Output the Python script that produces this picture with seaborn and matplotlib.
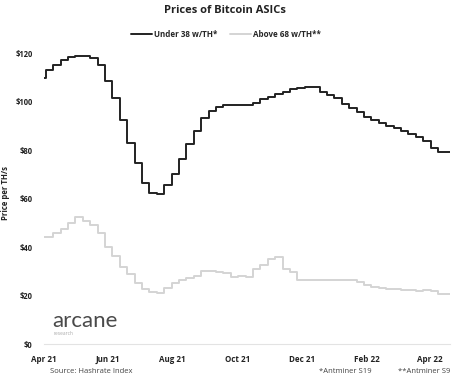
import matplotlib
matplotlib.use("Agg")
from matplotlib import pyplot as plt
import matplotlib.dates as mdates
import pandas as pd
import seaborn as sns

# weekly prices, USD per TH/s (first point Apr 1 2021, then weekly updates)
under_38 = [110.0, 113.1, 115.2, 117.2, 118.5, 118.7, 118.7, 118.0, 115.2, 108.7,
            101.4, 92.5, 82.8, 74.6, 66.6, 62.5, 62.0, 65.6, 70.0, 76.2,
            82.6, 87.9, 93.4, 96.3, 97.7, 98.7, 98.6, 98.5, 98.5, 99.6,
            101.0, 102.1, 103.1, 104.0, 105.3, 105.8, 106.2, 106.0, 104.2, 102.8,
            101.4, 98.9, 97.3, 95.6, 93.8, 92.5, 91.1, 90.2, 89.0, 87.9,
            86.7, 85.3, 83.8, 80.8, 79.1]
above_68 = [44.0, 44.0, 45.7, 47.3, 49.8, 52.5, 50.7, 49.1, 45.8, 40.2,
            36.5, 31.9, 28.8, 25.3, 22.8, 21.6, 21.2, 23.0, 25.0, 26.5,
            27.3, 28.1, 30.3, 30.2, 29.9, 29.5, 27.5, 28.0, 27.8, 31.0,
            32.6, 35.0, 35.8, 31.0, 29.9, 26.4, 26.4, 26.4, 26.4, 26.4,
            26.4, 26.4, 26.4, 25.8, 24.3, 23.4, 23.0, 22.6, 22.6, 22.5,
            22.2, 22.0, 22.4, 21.9, 20.8]
series_names = ["Under 38 w/TH*", "Above 68 w/TH**"]
series_colors = ["#222222", "#d4d4d4"]
y_ticks = [0, 20, 40, 60, 80, 100, 120]

dates = ([pd.Timestamp("2021-04-01")]
         + list(pd.date_range("2021-04-03", periods=len(under_38) - 1, freq="7D"))
         + [pd.Timestamp("2022-04-20")])

df = pd.concat([
    pd.DataFrame({"date": dates, "price": under_38 + [under_38[-1]], "series": series_names[0]}),
    pd.DataFrame({"date": dates, "price": above_68 + [above_68[-1]], "series": series_names[1]}),
])

sns.set_theme(style="white")
plt.rcParams["font.family"] = ["Open Sans", "DejaVu Sans"]

fig = plt.figure(figsize=(4.74, 3.79), dpi=100)
ax = fig.add_axes([0.0922, 0.0923, 0.8565, 0.799])

sns.lineplot(data=df, x="date", y="price", hue="series", hue_order=series_names,
             palette=series_colors, drawstyle="steps-post", linewidth=1.4,
             estimator=None, ax=ax, legend=False)

ax.set_xlim(pd.Timestamp("2021-04-01"), pd.Timestamp("2022-04-20"))
ax.set_ylim(0, 125)
ax.set_yticks(y_ticks)
ax.set_yticklabels([f"${v}" for v in y_ticks], fontsize=5.5, fontweight="bold", color="#222222")
ax.xaxis.set_major_locator(mdates.MonthLocator(bymonth=[2, 4, 6, 8, 10, 12]))
ax.xaxis.set_major_formatter(mdates.DateFormatter("%b %y"))
for lbl in ax.get_xticklabels():
    lbl.set_fontsize(5.8)
    lbl.set_fontweight("bold")
    lbl.set_color("#222222")

ax.set_xlabel("")
ax.set_ylabel("Price per TH/s", fontsize=5.6, fontweight="bold", color="#222222")
ax.yaxis.set_label_coords(-0.083, 0.5)

for s in ["top", "right", "left"]:
    ax.spines[s].set_visible(False)
ax.spines["bottom"].set_color("#e3e3e3")
ax.spines["bottom"].set_linewidth(0.8)
ax.tick_params(axis="x", length=2, color="#e3e3e3", pad=6)
ax.tick_params(axis="y", length=0, pad=8)

fig.text(0.475, 0.972, "Prices of Bitcoin ASICs", ha="center", va="center",
         fontsize=8, fontweight="bold", color="#222222")

handles = [plt.Line2D([], [], color=c, linewidth=1.4) for c in series_colors]
fig.legend(handles, series_names, loc="center", bbox_to_anchor=(0.477, 0.91), ncol=2,
           frameon=False, handlelength=2.6, handletextpad=0.2, columnspacing=1.6,
           prop={"size": 5.8, "weight": "bold"})

# logo
fig.text(0.111, 0.153, "arcane", ha="left", va="center", fontsize=16,
         color="#4a4a4a", family=["Lato", "DejaVu Sans"])
fig.text(0.113, 0.119, "research", ha="left", va="center", fontsize=3.5,
         color="#aaaaaa")

# footer
fig.text(0.105, 0.01, "Source: Hashrate Index", ha="left", va="bottom", fontsize=5.5, color="#444444")
fig.text(0.672, 0.01, "*Antminer S19", ha="left", va="bottom", fontsize=5.5, color="#444444")
fig.text(0.84, 0.01, "**Antminer S9", ha="left", va="bottom", fontsize=5.5, color="#444444")

fig.savefig("out.png", dpi=100, facecolor="white")
